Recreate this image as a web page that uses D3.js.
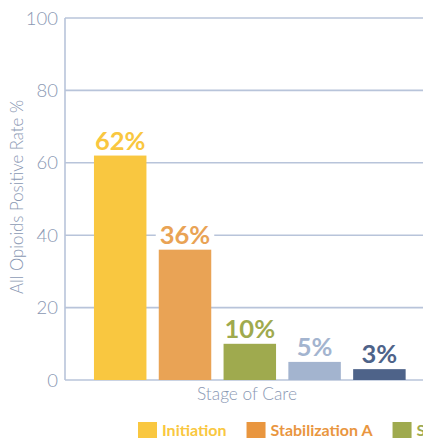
<!DOCTYPE html>
<html><head><meta charset="utf-8">
<script src="https://cdn.jsdelivr.net/npm/d3@7"></script>
<style>html,body{margin:0;padding:0;background:#fff;overflow:hidden}svg{display:block}</style>
</head><body>
<svg id="c" width="423" height="438"></svg>
<script>
const categories = ["Initiation", "Stabilization A", "Stabilization B", "Maintenance A", "Maintenance B"];
const values = [62, 36, 10, 5, 3];
const labels = ["62%", "36%", "10%", "5%", "3%"];
const colors = ["#F9C740", "#E9A355", "#9FAA4E", "#A3B4CF", "#4E6389"];
const legendColors = ["#F9C740", "#E9963F", "#9FAA4E", "#A3B4CF", "#4E6389"];
const yTicks = [0, 20, 40, 60, 80, 100];

const svg = d3.select("#c");
const font = "Lato, 'Open Sans', sans-serif";
const axisColor = "#B8C4DA";
const textColor = "#8A98B3";

const y = d3.scaleLinear().domain([0, 100]).range([380, 18]);
const x = d3.scaleBand().domain(categories).range([65, 434.6]).paddingInner(0.19).paddingOuter(0.447);

// gridlines
svg.append("g").selectAll("line").data(yTicks).join("line")
  .attr("x1", 65).attr("x2", 423)
  .attr("y1", d => y(d)).attr("y2", d => y(d))
  .attr("stroke", axisColor).attr("stroke-width", 1.6);

// y axis line
svg.append("line").attr("x1", 65).attr("x2", 65).attr("y1", y(100)).attr("y2", y(0))
  .attr("stroke", axisColor).attr("stroke-width", 1.6);

// tick labels
svg.append("g").selectAll("text").data(yTicks).join("text")
  .attr("x", 58).attr("y", d => y(d)).attr("dy", "0.36em")
  .attr("text-anchor", "end").attr("fill", textColor)
  .attr("font-family", font).attr("font-weight", 300).attr("font-size", 18.5)
  .text(d => d);

// y title
svg.append("text").attr("transform", "translate(23,197) rotate(-90)")
  .attr("text-anchor", "middle").attr("fill", textColor)
  .attr("font-family", font).attr("font-weight", 300).attr("font-size", 16.8)
  .text("All Opioids Positive Rate %");

// bars
svg.append("g").selectAll("rect").data(values).join("rect")
  .attr("x", (d, i) => x(categories[i])).attr("width", x.bandwidth())
  .attr("y", d => y(d)).attr("height", d => y(0) - y(d))
  .attr("fill", (d, i) => colors[i]);

// value labels with white background
const lg = svg.append("g");
values.forEach((v, i) => {
  const g = lg.append("g");
  const t = g.append("text")
    .attr("x", x(categories[i]) + x.bandwidth() / 2).attr("y", y(v) - 6)
    .attr("text-anchor", "middle").attr("fill", colors[i])
    .attr("font-family", font).attr("font-weight", 700).attr("font-size", 25.5)
    .text(labels[i]);
  const b = t.node().getBBox();
  g.insert("rect", "text").attr("x", b.x - 4).attr("y", b.y + 3).attr("width", b.width + 8).attr("height", b.height - 6)
    .attr("fill", "#fff");
});

// x title
svg.append("text").attr("x", 247).attr("y", 400)
  .attr("text-anchor", "middle").attr("fill", textColor)
  .attr("font-family", font).attr("font-weight", 300).attr("font-size", 17.3)
  .text("Stage of Care");

// legend
let lx = 138;
const leg = svg.append("g");
categories.forEach((c, i) => {
  leg.append("rect").attr("x", lx).attr("y", 422).attr("width", 19).attr("height", 16).attr("fill", legendColors[i]);
  const t = leg.append("text").attr("x", lx + 24).attr("y", 435.5)
    .attr("fill", legendColors[i]).attr("font-family", font).attr("font-weight", 700).attr("font-size", 16)
    .text(c);
  lx += 24 + t.node().getComputedTextLength() + 20;
});
</script>
</body></html>
